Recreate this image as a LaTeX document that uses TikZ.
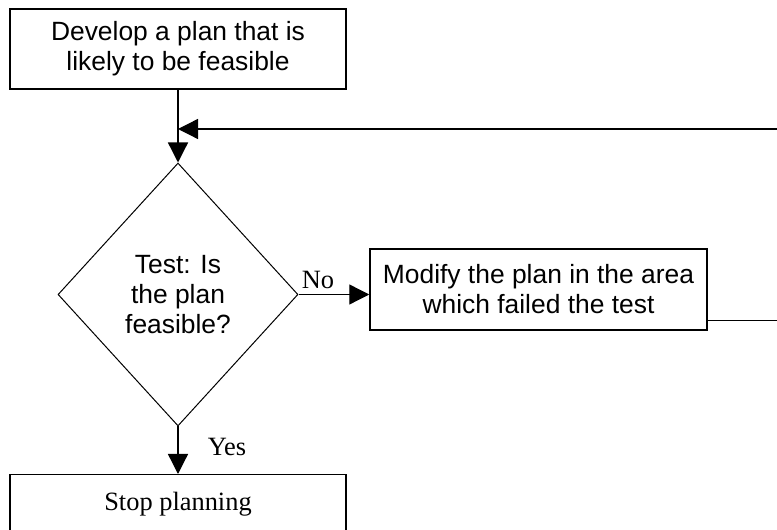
\documentclass[tikz,border=0pt]{standalone}
\usepackage{fontspec}
\setmainfont{Liberation Serif}
\newfontfamily\arialfont{Liberation Sans}
\usetikzlibrary{shapes.geometric,arrows.meta}

\tikzset{
	planbox/.style={rectangle,draw=black,line width=1.5pt,minimum width=336pt,minimum height=80pt,align=center,font=\arialfont\fontsize{26.4}{30}\selectfont},
	testbox/.style={diamond,draw=black,line width=1pt,minimum width=240pt,minimum height=263pt,inner sep=0pt,align=center,font=\arialfont\fontsize{26.4}{30}\selectfont},
	flow/.style={line width=1.3pt,-{Triangle[length=20pt,width=20pt]}},
	flowlabel/.style={font=\fontsize{26.4}{30}\selectfont}
}

\begin{document}
\begin{tikzpicture}[x=1pt,y=1pt]
	\useasboundingbox (0,0) rectangle (777,530);
	\clip (0,0) rectangle (777,530);

		\node[planbox] (plan) at (178,481) {Develop a plan that is\\likely to be feasible};
	  \node[testbox] (test) at (178,235.5) {Test: Is\\the plan\\feasible?};
	  \node[planbox,minimum width=337pt,minimum height=81pt] (modify) at (538.5,240.5) {Modify the plan in the area\\which failed the test};
	  \node[planbox,minimum height=58pt,font=\fontsize{26.4}{30}\selectfont,anchor=north] (stop) at (178,56) {Stop planning};

    % answers
    \node[flowlabel] (no) at (318,250) {No};
	  \node[flowlabel] (yes) at (227,83) {Yes};

		\coordinate (back) at (700,401);
		\coordinate (join) at (plan.south |- back);

		\draw[flow] (plan) -- (test);
		\draw[flow] (test.east) -- (test.east -| modify.west);
		\draw[flow] (test) -- (stop);
		% back to the test
		\draw[flow] ([yshift=10pt]modify.south east) -- ++(100,0) |- (join);

    \end{tikzpicture}
\end{document}
